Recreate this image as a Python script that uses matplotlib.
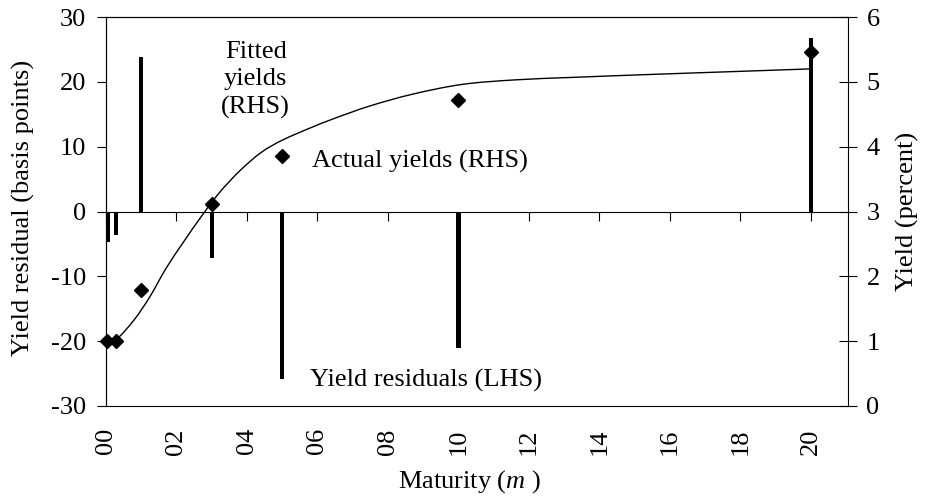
import numpy as np
import matplotlib
matplotlib.use("Agg")
from matplotlib import pyplot as plt
from matplotlib.ticker import FuncFormatter
from matplotlib.path import Path
from matplotlib.patches import PathPatch

# maturities (years) of the bonds
maturity = [0.04, 0.29, 1, 3, 5, 10, 20]
# residuals in basis points (left axis)
residual_bp = [-4.7, -3.6, 23.8, -7.2, -25.9, -21.1, 26.7]
# actual yields in percent (right axis)
actual_yield = [1.0, 1.0, 1.79, 3.11, 3.86, 4.72, 5.46]
# fitted yield curve
fit_maturity = [0, 0.3, 0.8, 1.25, 1.7, 2.2, 2.7, 3.2, 3.8, 4.4, 5.0, 5.8,
                6.5, 7.5, 8.7, 10.1, 11.6, 13.3, 15.5, 17.9, 20]
fit_yield = [0.98, 1.03, 1.33, 1.69, 2.12, 2.53, 2.92, 3.28, 3.63, 3.91, 4.10, 4.29,
             4.44, 4.63, 4.81, 4.96, 5.03, 5.07, 5.115, 5.16, 5.20]
x_ticks = list(range(0, 21, 2))


def smooth_path(xs, ys):
    # excel-like smoothed line: catmull-rom segments as cubic beziers
    p = np.column_stack([xs, ys]).astype(float)
    verts = [p[0]]
    codes = [Path.MOVETO]
    for i in range(len(p) - 1):
        p0 = p[i - 1] if i > 0 else p[i]
        p3 = p[i + 2] if i + 2 < len(p) else p[i + 1]
        c1 = p[i] + (p[i + 1] - p0) / 6
        c2 = p[i + 1] - (p3 - p[i]) / 6
        verts += [c1, c2, p[i + 1]]
        codes += [Path.CURVE4] * 3
    return Path(verts, codes)


plt.rcParams['font.family'] = ['Liberation Serif', 'DejaVu Serif']
plt.rcParams['mathtext.fontset'] = 'custom'
plt.rcParams['mathtext.rm'] = 'Liberation Serif'
plt.rcParams['mathtext.it'] = 'Liberation Serif:italic'
plt.rcParams['axes.unicode_minus'] = False
plt.rcParams['font.size'] = 19

fig = plt.figure(figsize=(9.27, 4.99), dpi=100)
ax = fig.add_axes([106 / 927, 1 - 406 / 499, 742 / 927, 389 / 499])
ax2 = ax.twinx()

ax.bar(maturity, residual_bp, width=0.12, color='black', zorder=3)
ax2.add_patch(PathPatch(smooth_path(fit_maturity, fit_yield), facecolor='none',
                        edgecolor='black', lw=1))
ax2.plot(maturity, actual_yield, 'D', ms=6.8, color='black', clip_on=False)

ax.set_xlim(0, 21.05)
ax.set_ylim(-30, 30)
ax2.set_ylim(0, 6)
ax.set_xticks(x_ticks)
ax.xaxis.set_major_formatter(FuncFormatter(lambda v, p: f"{int(round(v)):02d}"))
ax.set_yticks(range(-30, 31, 10))
ax2.set_yticks(range(0, 7))

# x axis drawn at zero residual, labels along the bottom border
ax.spines['bottom'].set_position(('data', 0))
ax.spines['right'].set_visible(False)
for s in list(ax.spines.values()) + list(ax2.spines.values()):
    s.set_linewidth(0.8)
ax.tick_params(axis='x', direction='out', length=6.5, width=0.8, labelbottom=False)
ax.tick_params(axis='y', direction='out', length=6.5, width=0.8, pad=8)
ax2.tick_params(axis='y', direction='inout', length=12.5, width=0.8, pad=7)
ax2.xaxis.set_visible(True)
ax2.tick_params(axis='x', bottom=True, top=False, labelbottom=True, length=0,
                labelrotation=90, pad=16)

ax.set_ylabel("Yield residual (basis points)")
ax.yaxis.set_label_coords(-0.0957, 0.51)
ax2.set_ylabel("Yield (percent)")
ax2.yaxis.set_label_coords(1.0647, 0.5)
ax2.set_xlabel("Maturity ($m$ )")
ax2.xaxis.set_label_coords(0.49, -0.159)

ax.text(4.25, 20.3, "Fitted\nyields\n(RHS)", ha='center', va='center', linespacing=1.3)
ax.text(5.84, 6.7, "Actual yields (RHS)", ha='left', va='baseline')
ax.text(5.79, -27.07, "Yield residuals (LHS)", ha='left', va='baseline')

fig.savefig("out.png", dpi=100)
